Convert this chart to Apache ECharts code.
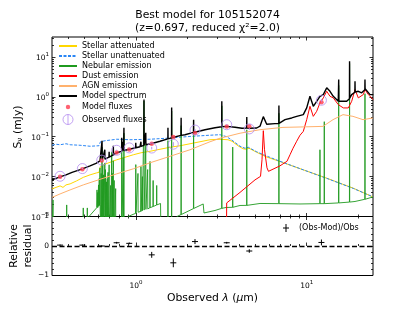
<!DOCTYPE html>
<html><head><meta charset="utf-8">
<script src="https://cdn.jsdelivr.net/npm/echarts@6/dist/echarts.min.js"></script>
<style>html,body{margin:0;padding:0;background:#fff}#c{width:415px;height:311px}</style>
</head><body><div id="c"></div>
<script>
// ---- data: [observed wavelength (um), flux density (mJy)] ----
const stellarAttenuated = [[0.322,0.00492],[0.340,0.00537],[0.359,0.00585],[0.3735,0.00537],[0.389,0.0062],[0.411,0.00657],[0.449,0.00782],[0.491,0.00957],[0.538,0.01107],[0.589,0.01243],[0.607,0.01279],[0.619,0.01811],[0.643,0.01975],[0.704,0.02283],[0.771,0.02639],[0.862,0.03051],[0.964,0.03526],[1.070,0.03958],[1.208,0.04318],[1.382,0.04848],[1.582,0.05441],[1.811,0.05936],[2.072,0.06665],[2.371,0.07482],[2.714,0.0840],[3.105,0.08649],[3.459,0.0840],[3.651,0.0770],[3.958,0.05936],[4.235,0.04991],[4.41,0.04848],[4.592,0.05137],[5.095,0.04074],[5.776,0.0314],[6.977,0.0239],[9.552,0.01478],[13.1,0.00914],[18.75,0.00512],[24.46,0.0031]];
const stellarUnattenuated = [[0.322,0.0611],[0.340,0.0648],[0.359,0.0629],[0.389,0.0667],[0.411,0.0629],[0.470,0.0611],[0.538,0.0577],[0.607,0.0594],[0.619,0.0748],[0.658,0.0793],[0.771,0.0865],[0.922,0.084],[1.208,0.0865],[1.582,0.0927],[2.072,0.1017],[2.714,0.1091],[3.105,0.1123],[3.399,0.1],[3.651,0.0817],[4.068,0.0577],[4.351,0.0514],[4.549,0.0544],[5.095,0.0419],[5.776,0.0333],[6.977,0.0242],[9.552,0.01478],[13.1,0.00904],[18.75,0.00506],[24.46,0.0031]];
const nebularEmission = [[0.322,0.0003],[0.3255,0.0003],[0.3265,0.0026],[0.3275,0.0003],[0.3915,0.0003],[0.3926,0.00195],[0.3937,0.0003],[0.4895,0.0003],[0.491,0.00164],[0.4925,0.0003],[0.517,0.0003],[0.5185,0.00164],[0.52,0.0003],[0.5306,0.001],[0.589,0.00166],[0.5909,0.00464],[0.5928,0.00168],[0.5955,0.0017],[0.597,0.004],[0.5985,0.0017],[0.6015,0.0018],[0.6032,0.0062],[0.605,0.00183],[0.6075,0.0019],[0.609,0.009],[0.6105,0.0019],[0.6138,0.00198],[0.6152,0.0166],[0.6166,0.002],[0.6186,0.00206],[0.6195,0.0003],[0.6235,0.0003],[0.625,0.012],[0.6265,0.0003],[0.631,0.0003],[0.6325,0.055],[0.634,0.0003],[0.6375,0.0003],[0.639,0.02],[0.6405,0.0003],[0.6435,0.0003],[0.645,0.01107],[0.6465,0.0003],[0.655,0.0003],[0.6565,0.022],[0.658,0.0003],[0.6605,0.0003],[0.662,0.015],[0.6635,0.0003],[0.6705,0.0003],[0.6719,0.00738],[0.6733,0.0003],[0.6765,0.0003],[0.678,0.009],[0.6795,0.0003],[0.684,0.0003],[0.6855,0.01279],[0.687,0.0003],[0.6945,0.0003],[0.696,0.01977],[0.6975,0.0003],[0.7085,0.0003],[0.71,0.006],[0.7115,0.0003],[0.719,0.0003],[0.7205,0.0419],[0.722,0.0003],[0.7265,0.0003],[0.728,0.012],[0.7295,0.0003],[0.735,0.0003],[0.7365,0.025],[0.738,0.0003],[0.7435,0.0003],[0.745,0.008],[0.7465,0.0003],[0.7585,0.0003],[0.76,0.005],[0.7615,0.0003],[0.8235,0.0003],[0.825,0.051],[0.8265,0.0003],[0.84,0.0003],[0.8415,0.03],[0.8455,0.0003],[0.8497,0.123],[0.8515,0.0003],[0.898,0.001],[0.995,0.0012],[0.997,0.02],[0.999,0.0012],[1.025,0.00128],[1.027,0.012],[1.029,0.00128],[1.067,0.00135],[1.069,0.018],[1.071,0.00135],[1.088,0.0014],[1.09,0.01],[1.092,0.0014],[1.111,0.00145],[1.1137,0.79],[1.116,0.00145],[1.139,0.00151],[1.141,0.063],[1.143,0.00151],[1.168,0.00155],[1.17,0.015],[1.172,0.00155],[1.206,0.00166],[1.208,0.024],[1.21,0.00166],[1.258,0.00178],[1.26,0.008],[1.262,0.00178],[1.32,0.00194],[1.322,0.006],[1.324,0.00195],[1.392,0.00212],[1.40,0.0003],[1.537,0.0003],[1.539,0.08],[1.541,0.0003],[1.615,0.0003],[1.6176,0.44],[1.62,0.0003],[1.739,0.001],[1.835,0.00112],[1.838,0.19],[1.841,0.00112],[2.171,0.00158],[2.175,0.14],[2.179,0.00159],[2.476,0.00206],[2.502,0.001225],[2.903,0.001416],[3.177,0.0016],[3.182,0.595],[3.187,0.0016],[3.367,0.001684],[3.459,0.00157],[3.681,0.0017],[3.686,0.055],[3.691,0.0017],[4.068,0.00189],[4.45,0.0019],[4.456,0.149],[4.462,0.0019],[5.328,0.00212],[6.865,0.0021],[6.875,0.387],[6.885,0.0021],[9.137,0.00206],[11.94,0.0021],[11.96,0.0471],[11.98,0.0021],[12.66,0.0021],[12.68,0.2385],[12.70,0.0021],[15.37,0.00219],[15.4,1.94],[15.43,0.00219],[15.67,0.00219],[17.8,0.0023],[17.83,6.9],[17.86,0.0023],[19.19,0.00238],[21.91,0.0027],[21.95,1.2],[21.99,0.0027],[24.46,0.0031]];
const dustEmission = [[3.367,0.00001],[3.399,0.00219],[4.068,0.00402],[4.98,0.00828],[5.364,0.01015],[5.473,0.0264],[5.57,0.1416],[5.66,0.0471],[5.853,0.0166],[5.973,0.01356],[6.977,0.01864],[7.665,0.0242],[7.985,0.0353],[8.314,0.0514],[8.739,0.077],[9.137,0.1091],[9.552,0.1359],[10.0,0.2677],[10.45,0.5786],[10.93,0.3241],[11.44,0.4329],[11.96,0.7043],[12.51,0.941],[13.1,1.379],[13.69,1.032],[14.31,0.941],[14.65,1.032],[15.31,0.6383],[16.39,0.5272],[17.53,0.5272],[18.35,0.7727],[19.19,1.522],[20.06,0.941],[21.46,1.139],[21.95,1.522],[22.95,1.139],[24.56,0.853]];
const agnEmission = [[0.322,0.00301],[0.359,0.00368],[0.411,0.00464],[0.491,0.0062],[0.615,0.00853],[0.771,0.01173],[0.964,0.01567],[1.208,0.02218],[1.582,0.0323],[2.072,0.0471],[2.371,0.0594],[2.714,0.0748],[3.105,0.0917],[4.068,0.1225],[5.328,0.150],[7.263,0.1714],[9.137,0.1754],[12.46,0.1816],[14.26,0.2677],[16.32,0.3576],[18.67,0.3241],[21.37,0.2677],[24.46,0.2954]];
const modelSpectrum = [[0.322,0.00828],[0.340,0.00904],[0.359,0.00986],[0.389,0.01107],[0.4219,0.01279],[0.4808,0.0154],[0.538,0.01864],[0.583,0.02154],[0.615,0.0249],[0.631,0.0258],[0.6325,0.0793],[0.634,0.026],[0.649,0.02716],[0.655,0.0272],[0.6565,0.0471],[0.658,0.0274],[0.6945,0.031],[0.696,0.0419],[0.6975,0.031],[0.704,0.0323],[0.735,0.035],[0.7365,0.0594],[0.738,0.0352],[0.771,0.03958],[0.8235,0.043],[0.825,0.0944],[0.8265,0.043],[0.84,0.0444],[0.8415,0.0748],[0.8455,0.0447],[0.8497,0.1684],[0.8515,0.045],[0.914,0.04848],[0.995,0.053],[0.997,0.0706],[0.999,0.053],[1.055,0.056],[1.067,0.057],[1.069,0.0748],[1.071,0.0572],[1.111,0.061],[1.1137,0.853],[1.116,0.061],[1.139,0.063],[1.141,0.126],[1.143,0.063],[1.224,0.0667],[1.382,0.077],[1.537,0.088],[1.539,0.1684],[1.541,0.088],[1.615,0.094],[1.6176,0.5366],[1.62,0.094],[1.654,0.0971],[1.835,0.108],[1.838,0.3006],[1.841,0.108],[1.937,0.1123],[2.171,0.128],[2.175,0.2677],[2.179,0.128],[2.216,0.1298],[2.537,0.150],[2.903,0.1684],[3.177,0.178],[3.182,0.7727],[3.187,0.178],[3.399,0.1816],[3.802,0.1734],[4.178,0.1636],[4.45,0.164],[4.456,0.313],[4.462,0.164],[4.61,0.1636],[5.095,0.1655],[5.328,0.1837],[5.57,0.3184],[5.83,0.2063],[6.522,0.2124],[6.865,0.215],[6.875,0.6025],[6.885,0.216],[7.464,0.2677],[8.169,0.2954],[8.739,0.3241],[9.552,0.3576],[10.0,0.5272],[10.45,1.032],[10.93,0.5786],[11.44,0.7727],[11.96,1.032],[12.51,1.139],[13.1,1.68],[13.69,1.379],[14.31,1.032],[14.65,1.139],[15.31,0.7727],[15.37,0.773],[15.4,2.716],[15.43,0.773],[17.15,0.7727],[17.8,0.9],[17.83,7.84],[17.86,0.92],[18.35,1.139],[19.15,1.3],[19.19,2.46],[19.23,1.32],[20.06,1.379],[21.0,1.257],[21.91,1.5],[21.95,2.716],[21.99,1.6],[22.46,1.68],[23.49,1.139],[24.56,1.139]];

// ---- photometry ----
const filterWavelengths = [0.359, 0.485, 0.63, 0.77, 0.913, 1.236, 1.654, 2.216, 3.40, 4.61, 12.2];
const modelFluxes = [0.00986, 0.0154, 0.02535, 0.0403, 0.0478, 0.0667, 0.0983, 0.1239, 0.1816, 0.1837, 0.729];
const observedFluxes = [0.0102, 0.0159, 0.0259, 0.0457, 0.0525, 0.052, 0.065, 0.147, 0.2, 0.157, 0.82];
const observedErrors = [0.0004, 0.0006, 0.0009, 0.0015, 0.0015, 0.004, 0.008, 0.008, 0.006, 0.008, 0.06];
const relativeResiduals = [0.03, 0.03, 0.0, 0.11, 0.09, -0.3, -0.57, 0.15, 0.11, -0.17, 0.12];
const residualErrors = [0.02, 0.02, 0.02, 0.03, 0.03, 0.1, 0.15, 0.085, 0.03, 0.06, 0.1];

// ---- axis ticks ----
const xMajorTicks = [1, 10];
const xMinorTicks = [0.4,0.5,0.6,0.7,0.8,0.9,2,3,4,5,6,7,8,9,20];
const yMajorTicks = [0.001, 0.01, 0.1, 1, 10];
const yMinorTicks = [0.002,0.003,0.004,0.005,0.006,0.007,0.008,0.009,0.02,0.03,0.04,0.05,0.06,0.07,0.08,0.09,0.2,0.3,0.4,0.5,0.6,0.7,0.8,0.9,2,3,4,5,6,7,8,9,20,30];

const FONT = 'DejaVu Sans';
const X_MIN = 0.322, X_MAX = 24.46, Y_MIN = 0.001, Y_MAX = 31.62;
const LAV = '#b48cf0';

function supLabel(v){
  const e = Math.round(Math.log10(v));
  return '{b|10}{s|' + (e < 0 ? '\u2212' : '') + Math.abs(e) + '}';
}
const richSup = {
  b: {fontSize: 7.5, fontFamily: FONT, color: '#000', verticalAlign: 'bottom'},
  s: {fontSize: 5.5, fontFamily: FONT, color: '#000', verticalAlign: 'bottom', padding: [0,0,4.5,0]}
};
function logAxis(dim, grid, pos, vals, len, labels){
  const a = {
    type: 'log', logBase: 10, gridIndex: grid, position: pos,
    min: dim === 'x' ? X_MIN : Y_MIN, max: dim === 'x' ? X_MAX : Y_MAX,
    axisLine: {show: false}, splitLine: {show: false}, minorTick: {show: false},
    axisTick: {show: true, inside: true, length: len, customValues: vals, lineStyle: {color: '#000', width: 0.8}},
    axisLabel: {show: false}
  };
  if (labels) a.axisLabel = {show: true, customValues: vals, margin: dim === 'x' ? 4 : 3, formatter: supLabel, rich: richSup};
  return a;
}
function resAxis(pos, labels){
  return {
    type: 'value', gridIndex: 1, position: pos, min: -1, max: 1, interval: 1,
    axisLine: {show: false}, splitLine: {show: false},
    axisTick: {show: true, inside: true, length: 3.5, lineStyle: {color: '#000', width: 0.8}},
    minorTick: {show: true, splitNumber: 5, length: 2, lineStyle: {color: '#000', width: 0.8}},
    axisLabel: labels ? {show: true, margin: 3, fontSize: 7.5, fontFamily: FONT, color: '#000',
      formatter: v => (v < 0 ? '\u2212' + Math.abs(v) : String(v))} : {show: false}
  };
}

const xAxes = [
  logAxis('x', 0, 'bottom', xMajorTicks, 3.5, false),
  logAxis('x', 0, 'bottom', xMinorTicks, 2, false),
  logAxis('x', 0, 'top', xMajorTicks, 3.5, false),
  logAxis('x', 0, 'top', xMinorTicks, 2, false),
  logAxis('x', 1, 'bottom', xMajorTicks, 3.5, true),
  logAxis('x', 1, 'bottom', xMinorTicks, 2, false),
  logAxis('x', 1, 'top', xMajorTicks, 3.5, false),
  logAxis('x', 1, 'top', xMinorTicks, 2, false)
];
const yAxes = [
  logAxis('y', 0, 'left', yMajorTicks, 3.5, true),
  logAxis('y', 0, 'left', yMinorTicks, 2, false),
  logAxis('y', 0, 'right', yMajorTicks, 3.5, false),
  logAxis('y', 0, 'right', yMinorTicks, 2, false),
  resAxis('left', true),
  resAxis('right', false)
];

function lineSeries(name, data, color, width, type){
  return {name, type: 'line', data, xAxisIndex: 0, yAxisIndex: 0, symbol: 'none', showSymbol: false,
    clip: true, silent: true, lineStyle: {color, width, type: type || 'solid'}, itemStyle: {color}};
}
function lineLegend(name){ return {name, itemStyle: {opacity: 0}}; }

const modelIcon = 'path://M0,0L0.01,0L0,0.01ZM18,10L17.99,10L18,9.99ZM6.8,5a2.2,2.2 0 1,0 4.4,0a2.2,2.2 0 1,0 -4.4,0Z';
const obsIcon = 'path://M4,5a5,5 0 1,0 10,0a5,5 0 1,0 -10,0M9,0L9,10';

const option = {
  animation: false,
  backgroundColor: '#fff',
  title: {
    text: 'Best model for 105152074\n(z=0.697, reduced \u03c7\u00b2=2.0)',
    left: 'center', top: 4,
    textStyle: {fontSize: 10.8, fontWeight: 'normal', fontFamily: FONT, color: '#000', lineHeight: 12.6}
  },
  grid: [
    {left: 52, top: 37, width: 321, height: 179.5, show: true, borderColor: '#000', borderWidth: 1, backgroundColor: 'transparent', containLabel: false, outerBoundsMode: 'none'},
    {left: 52, top: 216.5, width: 321, height: 59, show: true, borderColor: '#000', borderWidth: 1, backgroundColor: 'transparent', containLabel: false, outerBoundsMode: 'none'}
  ],
  xAxis: xAxes,
  yAxis: yAxes,
  legend: [
    {
      orient: 'vertical', left: 58, top: 42, itemWidth: 18, itemHeight: 10, itemGap: 2,
      selectedMode: false, padding: 0,
      textStyle: {fontSize: 8, fontFamily: FONT, color: '#000'},
      data: [lineLegend('Stellar attenuated'), lineLegend('Stellar unattenuated'), lineLegend('Nebular emission'),
        lineLegend('Dust emission'), lineLegend('AGN emission'), lineLegend('Model spectrum'),
        {name: 'Model fluxes', icon: modelIcon},
        {name: 'Observed fluxes', icon: obsIcon, itemStyle: {color: 'rgba(0,0,0,0)', borderColor: LAV, borderWidth: 1}}]
    },
    {
      orient: 'horizontal', left: 282.5, top: 223.5, itemWidth: 16, itemHeight: 8, selectedMode: false, padding: 0,
      textStyle: {fontSize: 8, fontFamily: FONT, color: '#000'},
      data: [{name: '(Obs-Mod)/Obs', icon: 'path://M0,4L6,4M3,0L3,8', itemStyle: {color: 'rgba(0,0,0,0)', borderColor: '#000', borderWidth: 1}}]
    }
  ],
  graphic: [
    {type: 'text', x: 18, y: 127, rotation: Math.PI / 2,
      style: {text: '{a|S}{b|\u03bd}{a| (mJy)}', align: 'center', verticalAlign: 'middle',
        rich: {a: {fontSize: 10.8, fontFamily: FONT, fill: '#000'}, b: {fontSize: 7.5, fontFamily: FONT, fill: '#000', verticalAlign: 'bottom', padding: [4,0,0,0]}}}},
    {type: 'text', x: 21, y: 246, rotation: Math.PI / 2,
      style: {text: 'Relative\nresidual', align: 'center', verticalAlign: 'middle', fontSize: 10.8, fontFamily: FONT, fill: '#000', lineHeight: 14}},
    {type: 'text', x: 212.5, y: 298,
      style: {text: '{n|Observed }{i|\u03bb}{n| (}{i|\u03bc}{n|m)}', align: 'center', verticalAlign: 'middle',
        rich: {n: {fontSize: 10.8, fontFamily: FONT, fill: '#000'}, i: {fontSize: 10.8, fontFamily: FONT, fontStyle: 'italic', fill: '#000'}}}}
  ],
  series: [
    lineSeries('Stellar attenuated', stellarAttenuated, '#FFD700', 1),
    lineSeries('Stellar unattenuated', stellarUnattenuated, '#2a86f5', 1, [3, 1.5]),
    lineSeries('Nebular emission', nebularEmission, '#1f9a1f', 0.9),
    lineSeries('Dust emission', dustEmission, '#ff0000', 1),
    lineSeries('AGN emission', agnEmission, '#ffb16d', 1),
    lineSeries('Model spectrum', modelSpectrum, '#000000', 1.4),
    {name: 'Model fluxes', type: 'scatter', xAxisIndex: 0, yAxisIndex: 0, symbol: 'circle', symbolSize: 4.5,
      itemStyle: {color: '#ff3b4f'}, data: filterWavelengths.map((w, i) => [w, modelFluxes[i]]), z: 3},
    {name: 'Observed fluxes', type: 'scatter', xAxisIndex: 0, yAxisIndex: 0, symbol: 'circle', symbolSize: 10,
      itemStyle: {color: 'rgba(0,0,0,0)', borderColor: LAV, borderWidth: 1}, data: filterWavelengths.map((w, i) => [w, observedFluxes[i]]), z: 4},
    {name: 'Observed errors', type: 'custom', xAxisIndex: 0, yAxisIndex: 0, z: 4, silent: true,
      data: filterWavelengths.map((w, i) => [w, observedFluxes[i], observedErrors[i]]),
      encode: {x: 0, y: 1},
      renderItem: (params, api) => {
        const x = api.value(0), y = api.value(1), e = api.value(2);
        const lo = api.coord([x, y - e]), hi = api.coord([x, y + e]);
        return {type: 'line', shape: {x1: lo[0], y1: lo[1], x2: hi[0], y2: hi[1]}, style: {stroke: LAV, lineWidth: 1}};
      }},
    {name: '(Obs-Mod)/Obs', type: 'custom', xAxisIndex: 4, yAxisIndex: 4, silent: true,
      data: filterWavelengths.map((w, i) => [w, relativeResiduals[i], residualErrors[i]]),
      encode: {x: 0, y: 1},
      itemStyle: {color: '#000'},
      renderItem: (params, api) => {
        const x = api.value(0), y = api.value(1), e = api.value(2);
        const c = api.coord([x, y]), lo = api.coord([x, y - e]), hi = api.coord([x, y + e]);
        return {type: 'group', children: [
          {type: 'line', shape: {x1: c[0] - 3, y1: c[1], x2: c[0] + 3, y2: c[1]}, style: {stroke: '#000', lineWidth: 1}},
          {type: 'line', shape: {x1: c[0], y1: lo[1], x2: c[0], y2: hi[1]}, style: {stroke: '#000', lineWidth: 1}}
        ]};
      },
      markLine: {silent: true, symbol: ['none', 'none'], label: {show: false},
        lineStyle: {type: [5, 2.5], color: '#000', width: 1.3}, data: [{yAxis: 0}]}
    }
  ]
};
const chart = echarts.init(document.getElementById('c'), null, {renderer: 'canvas'});
chart.setOption(option);
</script>
</body></html>
